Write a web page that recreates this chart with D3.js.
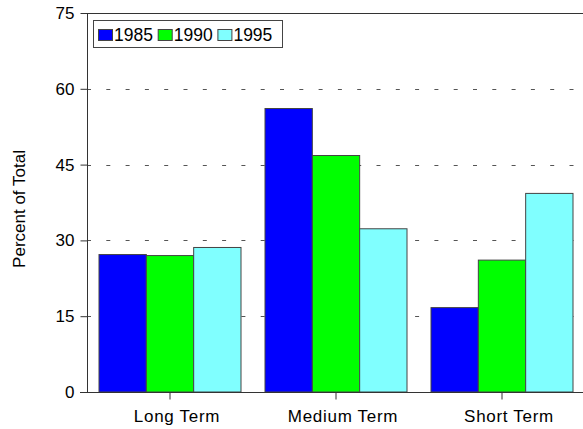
<!DOCTYPE html>
<html><head><meta charset="utf-8">
<script src="https://cdn.jsdelivr.net/npm/d3@7"></script>
<style>
html,body{margin:0;padding:0;background:#fff;}
text{font-family:"Liberation Sans",Arial,sans-serif;fill:#000;}
</style></head>
<body><svg id="c" width="583" height="429"></svg>
<script>
const categories = ["Long Term", "Medium Term", "Short Term"];
const years = ["1985", "1990", "1995"];
const v1985 = [27.2, 56.1, 16.7];
const v1990 = [27.0, 46.8, 26.1];
const v1995 = [28.6, 32.3, 39.3];
const yTicks = [0, 15, 30, 45, 60, 75];
const colors = ["#0000ff", "#00ff00", "#80ffff"];
const yTitle = "Percent of Total";

const series = [v1985, v1990, v1995];
const svg = d3.select("#c");
const plotLeft = 87, plotRight = 585, plotTop = 13, plotBottom = 392;

const x = d3.scaleBand().domain(categories).range([plotLeft, plotRight])
  .paddingInner(24/166).paddingOuter(12/166);
const xi = d3.scaleBand().domain(years).range([0, x.bandwidth()]).padding(0);
const y = d3.scaleLinear().domain([0, 75]).range([plotBottom, plotTop]);

// gridlines
svg.append("g").selectAll("line").data(yTicks.filter(t => t > 0)).join("line")
  .attr("x1", plotLeft).attr("x2", 583)
  .attr("y1", d => Math.round(y(d)) + 0.5).attr("y2", d => Math.round(y(d)) + 0.5)
  .attr("stroke", "#555").attr("stroke-width", 1)
  .attr("stroke-dasharray", "4,15.3");

// bars
const rows = categories.map((c, i) => ({c, vals: years.map((yr, j) => ({yr, v: series[j][i], j}))}));
const g = svg.append("g").selectAll("g").data(rows).join("g")
  .attr("transform", d => `translate(${x(d.c)},0)`);
g.selectAll("rect").data(d => d.vals).join("rect")
  .attr("x", d => xi(d.yr)).attr("width", xi.bandwidth())
  .attr("y", d => y(d.v)).attr("height", d => y(0) - y(d.v))
  .attr("fill", d => colors[d.j]).attr("stroke", "#444").attr("stroke-width", 1);

// top line
svg.append("line").attr("x1", plotLeft).attr("x2", 583)
  .attr("y1", Math.round(y(75)) + 0.5).attr("y2", Math.round(y(75)) + 0.5)
  .attr("stroke", "#333").attr("stroke-width", 1.2);

// y axis
const ya = svg.append("g").attr("transform", `translate(${plotLeft + 0.5},0)`)
  .call(d3.axisLeft(y).tickValues(yTicks).tickSize(7).tickPadding(6).tickFormat(d3.format("d")));
ya.select(".domain").attr("stroke", "#333").attr("d", `M0,${y(75)}V${y(0)}`);
ya.selectAll(".tick line").attr("stroke", "#333");
ya.selectAll(".tick text").style("font-size", "17px").attr("fill", "#000");

// x axis
const xa = svg.append("g").attr("transform", `translate(0,${plotBottom + 0.5})`)
  .call(d3.axisBottom(x).tickSize(7).tickPadding(10));
xa.select(".domain").attr("stroke", "#333").attr("d", `M${plotLeft - 7},0H583`);
xa.selectAll(".tick line").attr("stroke", "#333");
xa.selectAll(".tick text").style("font-size", "17px").attr("fill", "#000")
  .attr("dx", 7).style("letter-spacing", "0.7px");

// y title
svg.append("text").attr("transform", "translate(25,209) rotate(-90)")
  .attr("text-anchor", "middle").style("font-size", "17px").text(yTitle);

// legend
const lg = svg.append("g");
lg.append("rect").attr("x", 93.5).attr("y", 20.5).attr("width", 189).attr("height", 27)
  .attr("fill", "#fff").attr("stroke", "#444").attr("stroke-width", 1);
const li = lg.selectAll("g").data(years).join("g")
  .attr("transform", (d, i) => `translate(${98.5 + i * 59.7},0)`);
li.append("rect").attr("x", 0).attr("y", 29.5).attr("width", 14).attr("height", 11)
  .attr("fill", (d, i) => colors[i]).attr("stroke", "#444");
li.append("text").attr("x", 15.5).attr("y", 41.3).style("font-size", "17.5px").text(d => d);
</script></body></html>
